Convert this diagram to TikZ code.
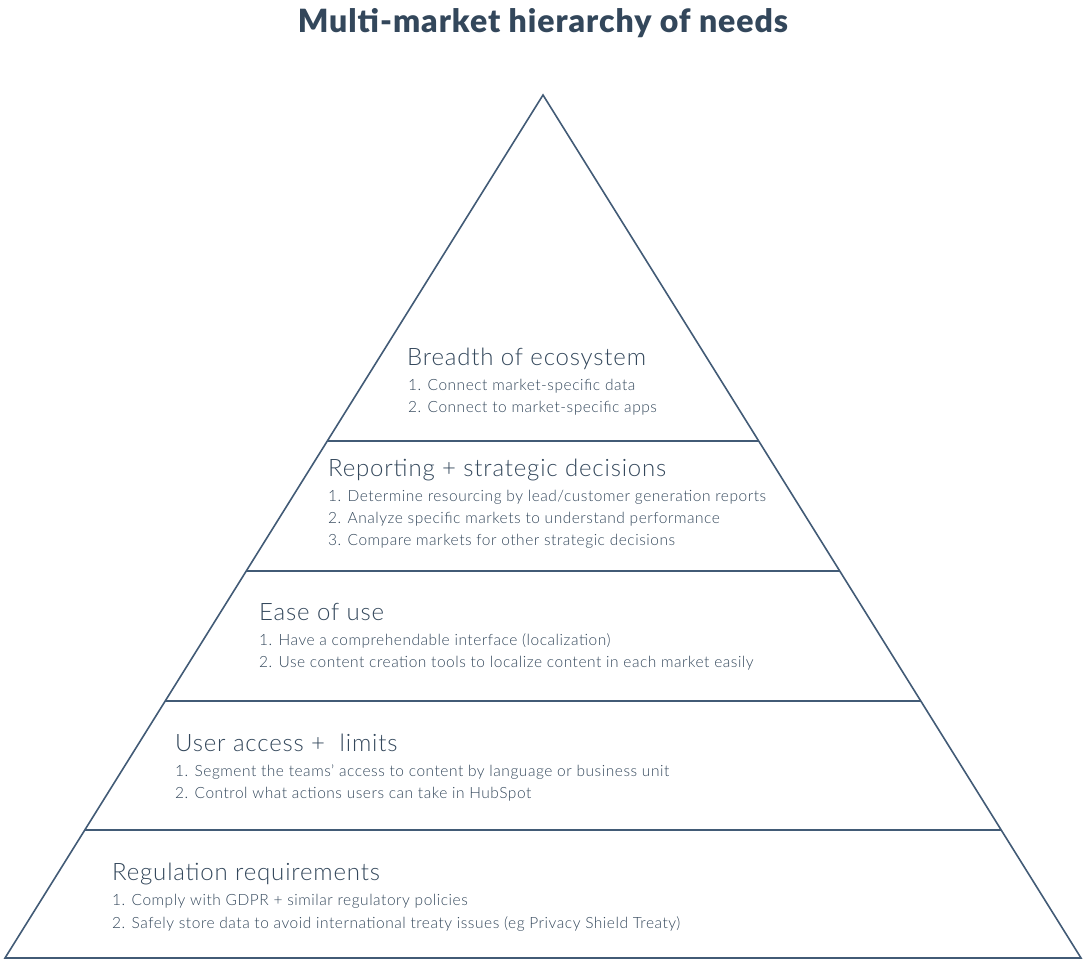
\documentclass[tikz,border=0pt]{standalone}
\usepackage{fontspec}
\setmainfont{Lato}
\newfontfamily\lightfont{Lato Light}[LetterSpace=3.4]
\newfontfamily\boldfont{Lato Black}[LetterSpace=3]
\definecolor{navy}{HTML}{33475B}
\definecolor{edge}{HTML}{425B76}
\begin{document}
\begin{tikzpicture}[x=1pt,y=-1pt,
  heading/.style={anchor=base west,inner sep=0pt,text=navy,font=\lightfont\fontsize{24}{28}\selectfont},
  item/.style={anchor=base west,inner sep=0pt,text=navy,font=\lightfont\fontsize{15.5}{18}\selectfont},
  tier/.style={draw=edge,line width=1.6pt},
  title/.style={anchor=base,inner sep=0pt,text=navy,font=\boldfont\fontsize{32}{38}\selectfont}]
\useasboundingbox (0,0) rectangle (1086,961);
\coordinate (apex) at (543,95);
\coordinate (bl) at (5,958);
\coordinate (br) at (1081,958);
\draw[tier,line join=miter] (apex) -- (br) -- (bl) -- cycle;
\draw[tier] (327.3,441) -- (758.7,441);
\draw[tier] (246.3,571) -- (839.7,571);
\draw[tier] (165.2,701) -- (920.8,701);
\draw[tier] (84.8,830) -- (1001.2,830);
\node[title] (t) at (543,32) {Multi-market hierarchy of needs};
% tier 5
\node[heading] (h5) at (407,365) {Breadth of ecosystem};
\node[item] (h5a) at (408,390) {1. Connect market-specific data};
\node[item] (h5b) at (408,412) {2. Connect to market-specific apps};
% tier 4
\node[heading] (h4) at (328,476) {Reporting + strategic decisions};
\node[item] (h4a) at (328,501) {1. Determine resourcing by lead/customer generation reports};
\node[item] (h4b) at (328,523) {2. Analyze specific markets to understand performance};
\node[item] (h4c) at (328,545) {3. Compare markets for other strategic decisions};
% tier 3
\node[heading] (h3) at (259,620) {Ease of use};
\node[item] (h3a) at (259,645) {1. Have a comprehendable interface (localization)};
\node[item] (h3b) at (259,667) {2. Use content creation tools to localize content in each market easily};
% tier 2
\node[heading] (h2) at (175,751) {User access +\ \ limits};
\node[item] (h2a) at (175,776) {1. Segment the teams’ access to content by language or business unit};
\node[item] (h2b) at (175,798) {2. Control what actions users can take in HubSpot};
% tier 1
\node[heading] (h1) at (112,880) {Regulation requirements};
\node[item] (h1a) at (112,905) {1. Comply with GDPR + similar regulatory policies};
\node[item] (h1b) at (112,928) {2. Safely store data to avoid international treaty issues (eg Privacy Shield Treaty)};
\end{tikzpicture}
\end{document}
